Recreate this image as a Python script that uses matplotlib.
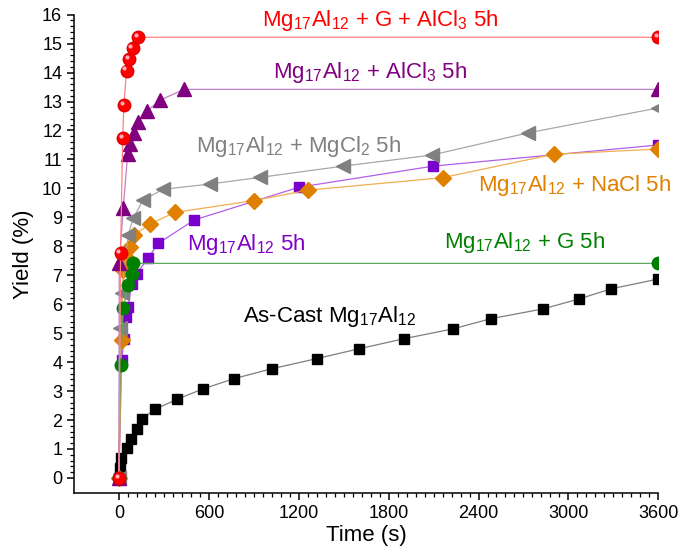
import numpy as np
import matplotlib
matplotlib.use('Agg')
import matplotlib.pyplot as plt
from matplotlib.ticker import FixedLocator
from matplotlib.transforms import offset_copy

plt.rcParams['font.family'] = ['Liberation Sans', 'DejaVu Sans']
plt.rcParams['mathtext.default'] = 'regular'

# data
t_cast = [0, 10, 15, 51, 78, 118, 151, 240, 389, 563, 769, 1019, 1320, 1602,
          1904, 2231, 2483, 2832, 3070, 3284, 3600]
y_cast = [0, 0.33, 0.68, 1.02, 1.34, 1.69, 2.03, 2.37, 2.72, 3.08, 3.43, 3.77,
          4.12, 4.46, 4.81, 5.15, 5.50, 5.84, 6.18, 6.53, 6.87]

t_5h = [0, 18, 35, 47, 62, 85, 118, 196, 262, 503, 1201, 2098, 3600]
y_5h = [0, 4.07, 4.80, 5.55, 5.92, 6.70, 7.05, 7.60, 8.10, 8.91, 10.04, 10.77, 11.50]

t_nacl = [0, 18, 29, 51, 73, 100, 207, 374, 901, 1263, 2160, 2903, 3600]
y_nacl = [0, 4.77, 7.18, 7.59, 7.99, 8.39, 8.77, 9.17, 9.58, 9.94, 10.37, 11.18, 11.36]

t_mgcl = [0, 7, 18, 62, 95, 162, 296, 607, 941, 1497, 2087, 2732, 3600]
y_mgcl = [0, 5.17, 6.38, 8.39, 8.97, 9.60, 9.97, 10.15, 10.38, 10.77, 11.15, 11.92, 12.78]

t_g = [0, 11, 29, 62, 85, 95, 3600]
y_g = [0, 3.90, 5.86, 6.66, 7.03, 7.41, 7.41]

t_alcl = [0, 2, 29, 58, 73, 102, 125, 189, 274, 436, 3600]
y_alcl = [0, 7.41, 9.31, 11.19, 11.53, 11.92, 12.28, 12.67, 13.05, 13.42, 13.42]

t_galcl = [0, 11, 25, 33, 51, 69, 91, 129, 3600]
y_galcl = [0, 7.78, 11.73, 12.88, 14.07, 14.46, 14.84, 15.22, 15.22]

fig = plt.figure(figsize=(6.8, 5.56), dpi=100)
ax = fig.add_axes([0.1088, 0.1128, 0.8593, 0.8608])

# series
ax.plot(t_cast, y_cast, color='#7f7f7f', lw=0.9, marker='s', ms=7.2,
        mfc='black', mec='black', zorder=3)
ax.plot(t_5h, y_5h, color='#b060e8', lw=0.9, marker='s', ms=7.2,
        mfc='#7a00cc', mec='#7a00cc', zorder=4)
ax.plot(t_nacl, y_nacl, color='#f0b050', lw=0.9, marker='D', ms=8.5,
        mfc='#e08000', mec='#e08000', zorder=5)
ax.plot(t_g, y_g, color='#60a860', lw=0.9, marker='o', ms=9,
        mfc='#008000', mec='#008000', zorder=6)
ax.plot(t_mgcl, y_mgcl, color='#a8a8a8', lw=0.9, marker='<', ms=10,
        mfc='#808080', mec='#808080', zorder=5)
ax.plot(t_alcl, y_alcl, color='#c080c8', lw=0.9, marker='^', ms=10,
        mfc='#800080', mec='#800080', zorder=7)
ax.plot(t_galcl, y_galcl, color='#ff8080', lw=0.9, marker='o', ms=9,
        mfc='#ff0000', mec='#e00000', zorder=8)
# little highlight to mimic the shaded spheres
hl = offset_copy(ax.transData, fig=fig, x=-1.5, y=1.5, units='points')
ax.plot(t_galcl, y_galcl, ls='none', marker='o', ms=3, mfc='#ffb0c0',
        mec='none', transform=hl, zorder=9)

# labels on the curves
kw = dict(fontsize=16, ha='left', va='baseline')
ax.text(954, 15.61, 'Mg$_{17}$Al$_{12}$ + G + AlCl$_{3}$ 5h', color='#ff0000', **kw)
ax.text(1028, 13.80, 'Mg$_{17}$Al$_{12}$ + AlCl$_{3}$ 5h', color='#800080', **kw)
ax.text(514, 11.27, 'Mg$_{17}$Al$_{12}$ + MgCl$_{2}$ 5h', color='#808080', **kw)
ax.text(2396, 9.92, 'Mg$_{17}$Al$_{12}$ + NaCl 5h', color='#e08000', **kw)
ax.text(2169, 7.93, 'Mg$_{17}$Al$_{12}$ + G 5h', color='#008000', **kw)
ax.text(454, 7.87, 'Mg$_{17}$Al$_{12}$ 5h', color='#8000c8', **kw)
ax.text(828, 5.40, 'As-Cast Mg$_{17}$Al$_{12}$', color='black', **kw)

# axes
ax.set_xlim(-300, 3600)
ax.set_ylim(-0.53, 16)
ax.set_xticks(np.arange(0, 3601, 600))
ax.set_yticks(np.arange(0, 17, 1))
ax.xaxis.set_minor_locator(FixedLocator(np.arange(0, 3601, 60)))
ax.yaxis.set_minor_locator(FixedLocator(np.arange(0, 16.01, 0.2)))
ax.spines['top'].set_visible(False)
ax.spines['right'].set_visible(False)
for s in ('left', 'bottom'):
    ax.spines[s].set_linewidth(1.1)
ax.tick_params(which='major', direction='out', length=5, width=1.1, labelsize=13)
ax.tick_params(which='minor', direction='out', length=3, width=0.9)
ax.set_xlabel('Time (s)', fontsize=16, labelpad=2)
ax.set_ylabel('Yield (%)', fontsize=16, labelpad=6)

fig.savefig('out.png', dpi=100)
